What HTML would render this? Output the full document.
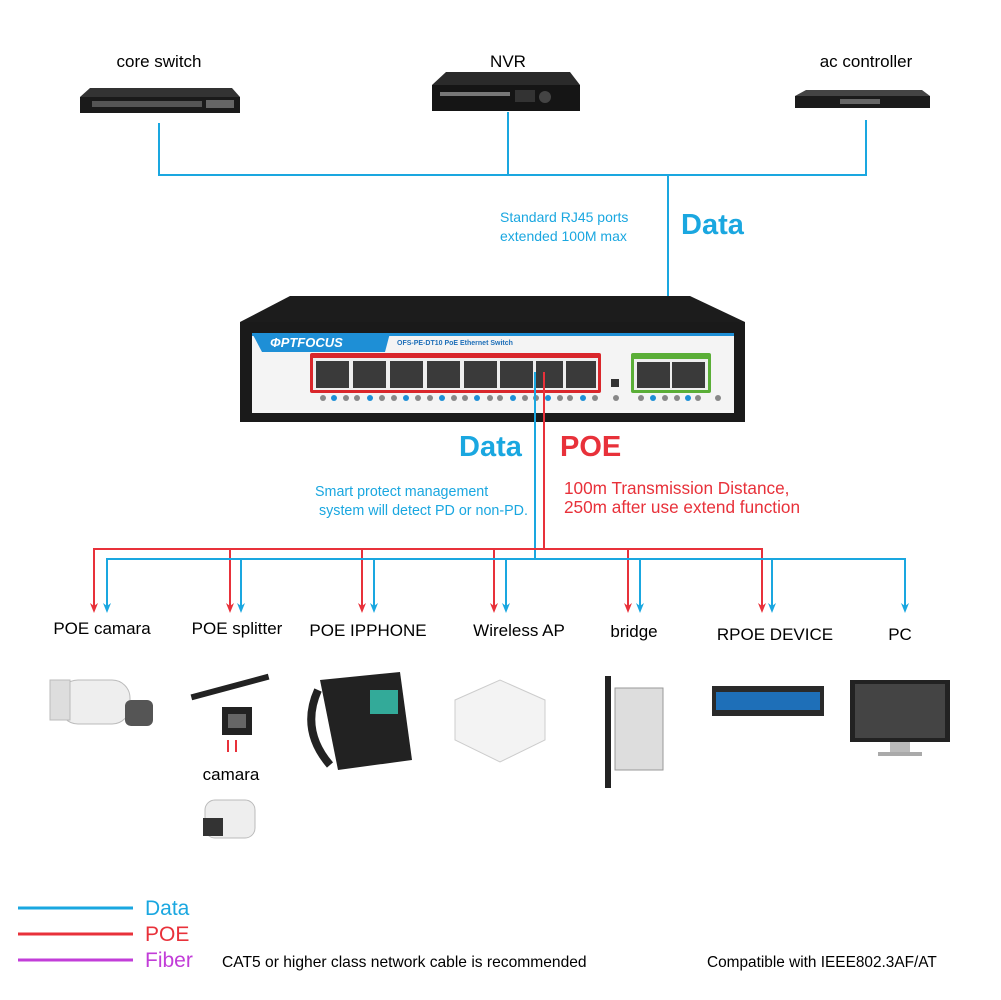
<!DOCTYPE html>
<html><head><meta charset="utf-8"><style>
body{margin:0;background:#fff;}
svg{display:block}
text{font-family:"Liberation Sans",Arial,sans-serif;}
</style></head><body>
<svg width="1001" height="1000" viewBox="0 0 1001 1000" xmlns="http://www.w3.org/2000/svg">
<!-- top labels -->
<text x="159" y="67" font-size="17" text-anchor="middle">core switch</text>
<text x="508" y="67" font-size="17" text-anchor="middle">NVR</text>
<text x="866" y="67" font-size="17" text-anchor="middle">ac controller</text>
<!-- top devices -->
<g><path d="M80,97 L90,88 L232,88 L240,97 Z" fill="#333"/><rect x="80" y="97" width="160" height="16" fill="#1a1a1a"/>
<rect x="92" y="101" width="110" height="6" fill="#555"/><rect x="206" y="100" width="28" height="8" fill="#666"/></g>
<g><path d="M432,85 L446,72 L570,72 L580,85 Z" fill="#2a2a2a"/><rect x="432" y="85" width="148" height="26" fill="#151515"/>
<rect x="440" y="92" width="70" height="4" fill="#777"/><circle cx="545" cy="97" r="6" fill="#444"/><rect x="515" y="90" width="20" height="12" fill="#333"/></g>
<g><path d="M795,96 L806,90 L922,90 L930,96 Z" fill="#444"/><rect x="795" y="96" width="135" height="12" fill="#1b1b1b"/><rect x="840" y="99" width="40" height="5" fill="#666"/></g>
<!-- top lines -->
<g stroke="#1aa7e0" stroke-width="2" fill="none">
<path d="M159,123 V175 H866 V120"/><path d="M508,112 V175"/>
<path d="M668,175 V350"/>
</g>
<path d="M664,344 L668,353 L672,344 L668,347 Z" fill="#1aa7e0"/>
<text x="500" y="222" font-size="14" fill="#1aa7e0">Standard RJ45 ports</text>
<text x="500" y="241" font-size="14" fill="#1aa7e0">extended 100M max</text>
<text x="681" y="234" font-size="29" font-weight="bold" fill="#1aa7e0">Data</text>
<!-- switch -->
<path d="M240,322 L290,296 L690,296 L745,322 Z" fill="#1c1c1c"/>
<rect x="240" y="322" width="505" height="100" fill="#1a1a1a"/>
<rect x="252" y="333" width="482" height="80" fill="#f4f4f4"/>
<path d="M252,333 L390,333 L385,352 L262,352 Z" fill="#1e8fd6"/>
<rect x="252" y="333" width="482" height="3" fill="#1e8fd6"/>
<text x="270" y="347" font-size="13" font-weight="bold" font-style="italic" fill="#fff">ΦPTFOCUS</text>
<text x="397" y="345" font-size="7" font-weight="bold" fill="#1e6fb8">OFS-PE-DT10   PoE Ethernet Switch</text>
<rect x="310" y="353" width="291" height="40" fill="#d9262b" rx="2"/>
<rect x="313" y="358" width="285" height="32" fill="#eee"/>
<g fill="#3a3a3a">
<rect x="316" y="361" width="33" height="27"/><rect x="353" y="361" width="33" height="27"/><rect x="390" y="361" width="33" height="27"/><rect x="427" y="361" width="33" height="27"/><rect x="464" y="361" width="33" height="27"/><rect x="500" y="361" width="33" height="27"/><rect x="536" y="361" width="27" height="27"/><rect x="566" y="361" width="30" height="27"/>
</g>
<rect x="631" y="353" width="80" height="40" fill="#5aae37" rx="2"/>
<rect x="634" y="359" width="74" height="31" fill="#eee"/>
<rect x="637" y="362" width="33" height="26" fill="#3a3a3a"/><rect x="672" y="362" width="33" height="26" fill="#3a3a3a"/>
<rect x="611" y="379" width="8" height="8" fill="#333"/>
<g fill="#888">
<circle cx="323" cy="398" r="3"/><circle cx="346" cy="398" r="3"/><circle cx="357" cy="398" r="3"/><circle cx="382" cy="398" r="3"/><circle cx="394" cy="398" r="3"/><circle cx="418" cy="398" r="3"/><circle cx="430" cy="398" r="3"/><circle cx="454" cy="398" r="3"/><circle cx="465" cy="398" r="3"/><circle cx="490" cy="398" r="3"/><circle cx="500" cy="398" r="3"/><circle cx="525" cy="398" r="3"/><circle cx="536" cy="398" r="3"/><circle cx="560" cy="398" r="3"/><circle cx="570" cy="398" r="3"/><circle cx="595" cy="398" r="3"/><circle cx="616" cy="398" r="3"/><circle cx="641" cy="398" r="3"/><circle cx="665" cy="398" r="3"/><circle cx="677" cy="398" r="3"/><circle cx="698" cy="398" r="3"/><circle cx="718" cy="398" r="3"/>
</g>
<g fill="#1e8fd6"><circle cx="334" cy="398" r="3"/><circle cx="370" cy="398" r="3"/><circle cx="406" cy="398" r="3"/><circle cx="442" cy="398" r="3"/><circle cx="477" cy="398" r="3"/><circle cx="513" cy="398" r="3"/><circle cx="548" cy="398" r="3"/><circle cx="583" cy="398" r="3"/><circle cx="653" cy="398" r="3"/><circle cx="688" cy="398" r="3"/></g>
<!-- down lines -->
<g fill="none" stroke-width="2">
<path d="M535,372 V559" stroke="#1aa7e0"/>
<path d="M544,372 V549" stroke="#e8313a"/>
<path d="M94,608 V549 H762 V608 M230,549 V608 M362,549 V608 M494,549 V608 M628,549 V608" stroke="#e8313a"/>
<path d="M107,608 V559 H905 V608 M241,559 V608 M374,559 V608 M506,559 V608 M640,559 V608 M772,559 V608" stroke="#1aa7e0"/>
</g>
<g fill="#e8313a">
<path d="M90,603 L94,613 L98,603 L94,606 Z"/><path d="M226,603 L230,613 L234,603 L230,606 Z"/><path d="M358,603 L362,613 L366,603 L362,606 Z"/><path d="M490,603 L494,613 L498,603 L494,606 Z"/><path d="M624,603 L628,613 L632,603 L628,606 Z"/><path d="M758,603 L762,613 L766,603 L762,606 Z"/>
</g>
<g fill="#1aa7e0">
<path d="M103,603 L107,613 L111,603 L107,606 Z"/><path d="M237,603 L241,613 L245,603 L241,606 Z"/><path d="M370,603 L374,613 L378,603 L374,606 Z"/><path d="M502,603 L506,613 L510,603 L506,606 Z"/><path d="M636,603 L640,613 L644,603 L640,606 Z"/><path d="M768,603 L772,613 L776,603 L772,606 Z"/><path d="M901,603 L905,613 L909,603 L905,606 Z"/>
</g>
<text x="459" y="456" font-size="29" font-weight="bold" fill="#1aa7e0">Data</text>
<text x="560" y="456" font-size="29" font-weight="bold" fill="#e8313a">POE</text>
<text x="315" y="496" font-size="14.3" fill="#1aa7e0">Smart protect management</text>
<text x="319" y="515" font-size="14.3" fill="#1aa7e0">system will detect PD or non-PD.</text>
<text x="564" y="494" font-size="17.2" fill="#e8313a">100m Transmission Distance,</text>
<text x="564" y="513" font-size="17.2" fill="#e8313a">250m after use extend function</text>
<!-- labels -->
<g font-size="17">
<text x="102" y="634" text-anchor="middle">POE camara</text>
<text x="237" y="634" text-anchor="middle">POE splitter</text>
<text x="368" y="636" text-anchor="middle">POE IPPHONE</text>
<text x="519" y="636" text-anchor="middle">Wireless AP</text>
<text x="634" y="637" text-anchor="middle">bridge</text>
<text x="775" y="640" text-anchor="middle">RPOE DEVICE</text>
<text x="900" y="640" text-anchor="middle">PC</text>
<text x="231" y="780" text-anchor="middle">camara</text>
</g>
<!-- device images -->
<g>
<rect x="60" y="680" width="70" height="44" rx="18" fill="#eee" stroke="#bbb"/><rect x="125" y="700" width="28" height="26" rx="6" fill="#555"/><rect x="50" y="680" width="20" height="40" fill="#ddd" stroke="#bbb"/>
<rect x="190" y="684" width="80" height="6" fill="#222" transform="rotate(-15 230 687)"/><rect x="222" y="707" width="30" height="28" fill="#222"/><rect x="228" y="714" width="18" height="14" fill="#666"/>
<path d="M228,740 V752 M236,740 V752" stroke="#e8313a" stroke-width="2"/>
<rect x="205" y="800" width="50" height="38" rx="10" fill="#eee" stroke="#bbb"/><rect x="203" y="818" width="20" height="18" fill="#333"/>
<path d="M320,680 L400,672 L412,760 L338,770 Z" fill="#222"/><rect x="370" y="690" width="28" height="24" fill="#3a9"/><path d="M318,690 Q300,730 330,765" stroke="#222" stroke-width="8" fill="none"/>
<path d="M455,700 L500,680 L545,700 L545,740 L500,762 L455,740 Z" fill="#f3f3f3" stroke="#ccc"/>
<rect x="605" y="676" width="6" height="112" fill="#222"/><rect x="615" y="688" width="48" height="82" fill="#ddd" stroke="#999"/>
<rect x="712" y="686" width="112" height="30" fill="#2a2a2a"/><rect x="716" y="692" width="104" height="18" fill="#1e6fb8"/>
<rect x="850" y="680" width="100" height="62" fill="#222"/><rect x="855" y="684" width="90" height="54" fill="#444"/><rect x="890" y="742" width="20" height="12" fill="#bbb"/><rect x="878" y="752" width="44" height="4" fill="#aaa"/>
</g>
<!-- legend -->
<g stroke-width="3"><path d="M18,908 H133" stroke="#1aa7e0"/><path d="M18,934 H133" stroke="#e8313a"/><path d="M18,960 H133" stroke="#c23dd8"/></g>
<text x="145" y="915" font-size="21" fill="#1aa7e0">Data</text>
<text x="145" y="941" font-size="21" fill="#e8313a">POE</text>
<text x="145" y="967" font-size="21" fill="#c23dd8">Fiber</text>
<text x="222" y="967" font-size="15.6">CAT5 or higher class network cable is recommended</text>
<text x="707" y="967" font-size="15.4">Compatible with IEEE802.3AF/AT</text>
</svg>
</body></html>
